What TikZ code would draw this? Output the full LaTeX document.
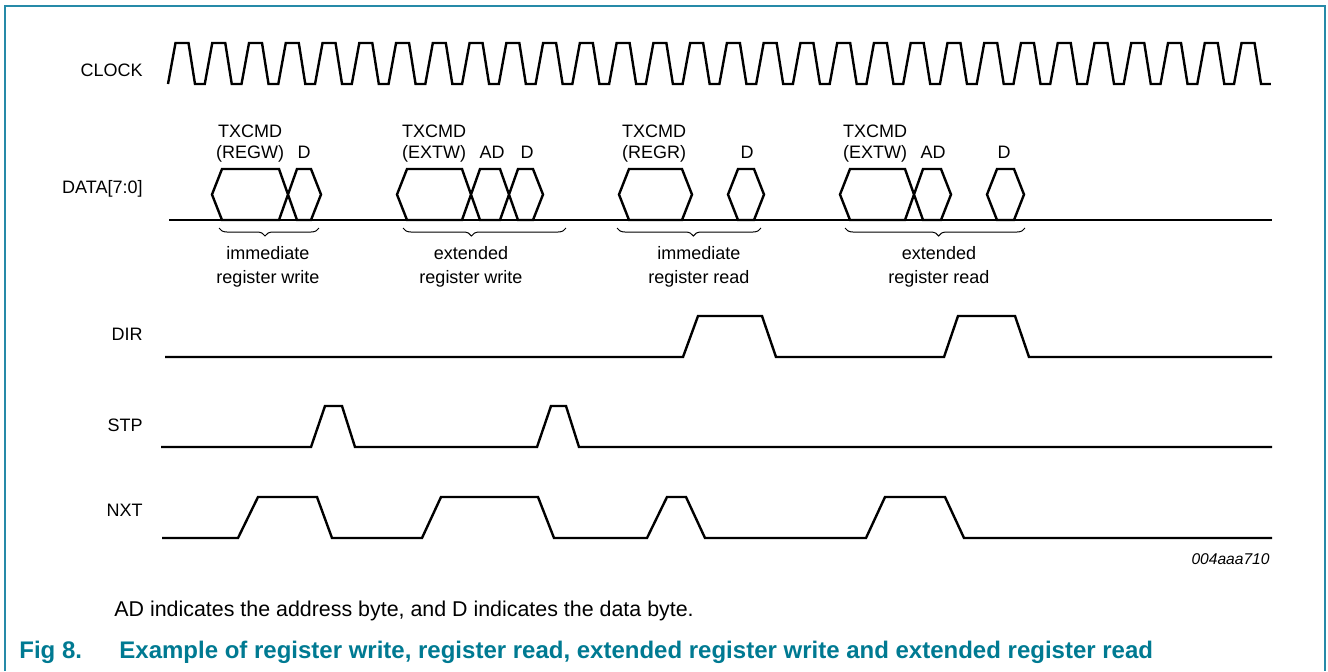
\documentclass[tikz,border=0pt]{standalone}
\usepackage{fontspec}
\setmainfont{Liberation Sans}
\usepackage{tikz}
\usetikzlibrary{decorations.pathreplacing}
\definecolor{figteal}{RGB}{0,122,146}
\definecolor{frameteal}{RGB}{38,138,168}
\tikzset{
	wave/.style={line width=1.2pt, line join=miter},
	sig/.style={anchor=base east, inner sep=0pt, font=\fontsize{9}{11}\selectfont},
	txt/.style={anchor=base, inner sep=0pt, font=\fontsize{9}{11}\selectfont},
	grp/.style={decorate, decoration={brace, mirror, amplitude=4pt}, line width=0.5pt},
}

\begin{document}
\begin{tikzpicture}[x=0.5pt, y=-0.5pt]
		%%%%% FRAME %%%%%
		\useasboundingbox (0,0) rectangle (1328,671);
		\draw[line width=0.7pt, color=frameteal] (5,671) -- (5,6) -- (1325,6) -- (1325,671);
		
		%%%%% CLOCK %%%%%
		\node[sig] (clk) at (143,76) {CLOCK};
		\draw[wave] (168,84) \foreach \k in {0,...,29} { -- ++(7.5,-41) -- ++(13,0) -- ++(6.5,41) -- ++(9.76,0)};
		
		%%%%% DATA[7:0] %%%%%
		\node[sig] (data) at (143,193) {DATA[7:0]};
		\draw[wave] (169,220) -- (1272,220);
		
		\draw[wave] (212,194.5) -- (222,169) -- (279,169) -- (297,220) -- (311,220) -- (321,194.5) -- (311,169) -- (297,169) -- (279,220) -- (222,220) -- cycle;
		\draw[wave] (397,194.5) -- (407,169) -- (462,169) -- (480,220) -- (500,220) -- (518,169) -- (533,169) -- (543,194.5) -- (533,220) -- (518,220) -- (500,169) -- (480,169) -- (462,220) -- (407,220) -- cycle;
		\draw[wave] (619,194.5) -- (629,169) -- (682,169) -- (692,194.5) -- (682,220) -- (629,220) -- cycle;
		\draw[wave] (728,194.5) -- (738,169) -- (754,169) -- (764,194.5) -- (754,220) -- (738,220) -- cycle;
		\draw[wave] (840,194.5) -- (850,169) -- (905,169) -- (923,220) -- (941,220) -- (951,194.5) -- (941,169) -- (923,169) -- (905,220) -- (850,220) -- cycle;
		\draw[wave] (987,194.5) -- (997,169) -- (1014,169) -- (1024,194.5) -- (1014,220) -- (997,220) -- cycle;
		
		\node[txt] (cmdA) at (250,137) {TXCMD};
		\node[txt] (regw) at (250,158) {(REGW)};
		\node[txt] (dA) at (304,158) {D};
		\node[txt] (cmdB) at (434,137) {TXCMD};
		\node[txt] (extwB) at (434,158) {(EXTW)};
		\node[txt] (adB) at (492,158) {AD};
		\node[txt] (dB) at (527,158) {D};
		\node[txt] (cmdC) at (654,137) {TXCMD};
		\node[txt] (regr) at (654,158) {(REGR)};
		\node[txt] (dC) at (747,158) {D};
		\node[txt] (cmdD) at (875,137) {TXCMD};
		\node[txt] (extwD) at (875,158) {(EXTW)};
		\node[txt] (adD) at (933,158) {AD};
		\node[txt] (dD) at (1004,158) {D};
		
		\draw[grp, decoration={aspect=0.46}] (219,228) -- (319,228);
		\draw[grp, decoration={aspect=0.42}] (403,228) -- (566,228);
		\draw[grp, decoration={aspect=0.53}] (617,228) -- (761,228);
		\draw[grp, decoration={aspect=0.52}] (845,228) -- (1025,228);
		
		\node[txt] (immA) at (268,259) {immediate};
		\node[txt] (wrA) at (268,283) {register write};
		\node[txt] (extB) at (471,259) {extended};
		\node[txt] (wrB) at (471,283) {register write};
		\node[txt] (immC) at (699,259) {immediate};
		\node[txt] (rdC) at (699,283) {register read};
		\node[txt] (extD) at (939,259) {extended};
		\node[txt] (rdD) at (939,283) {register read};
		
		%%%%% DIR %%%%%
		\node[sig] (dir) at (143,340) {DIR};
		\draw[wave] (165,357) -- (683,357) -- (698,316) -- (762,316) -- (776,357) -- (944,357) -- (958,316) -- (1015,316) -- (1029,357) -- (1272,357);
		
		%%%%% STP %%%%%
		\node[sig] (stp) at (143,431) {STP};
		\draw[wave] (161,447) -- (311,447) -- (325,406) -- (342,406) -- (355,447) -- (537,447) -- (551,406) -- (566,406) -- (579,447) -- (1272,447);
		
		%%%%% NXT %%%%%
		\node[sig] (nxt) at (143,516) {NXT};
		\draw[wave] (162,538) -- (238,538) -- (258,497) -- (317,497) -- (332,538) -- (422,538) -- (441,497) -- (538,497) -- (554,538) -- (647,538) -- (667,497) -- (686,497) -- (705,538) -- (866,538) -- (885,497) -- (945,497) -- (964,538) -- (1272,538);
		
		%%%%% NOTES %%%%%
		\node[anchor=base east, inner sep=0pt, font=\itshape\fontsize{7.8}{9}\selectfont] (figid) at (1270,564) {004aaa710};
		\node[anchor=base west, inner sep=0pt, font=\fontsize{10.7}{12}\selectfont] (note) at (114,616) {AD indicates the address byte, and D indicates the data byte.};
		\node[anchor=base west, inner sep=0pt, color=figteal, font=\bfseries\fontsize{12}{14}\selectfont] (fignum) at (19,658) {Fig 8.};
		\node[anchor=base west, inner sep=0pt, color=figteal, font=\bfseries\fontsize{12}{14}\selectfont] (figtitle) at (119,658) {Example of register write, register read, extended register write and extended register read};
	\end{tikzpicture}
\end{document}
